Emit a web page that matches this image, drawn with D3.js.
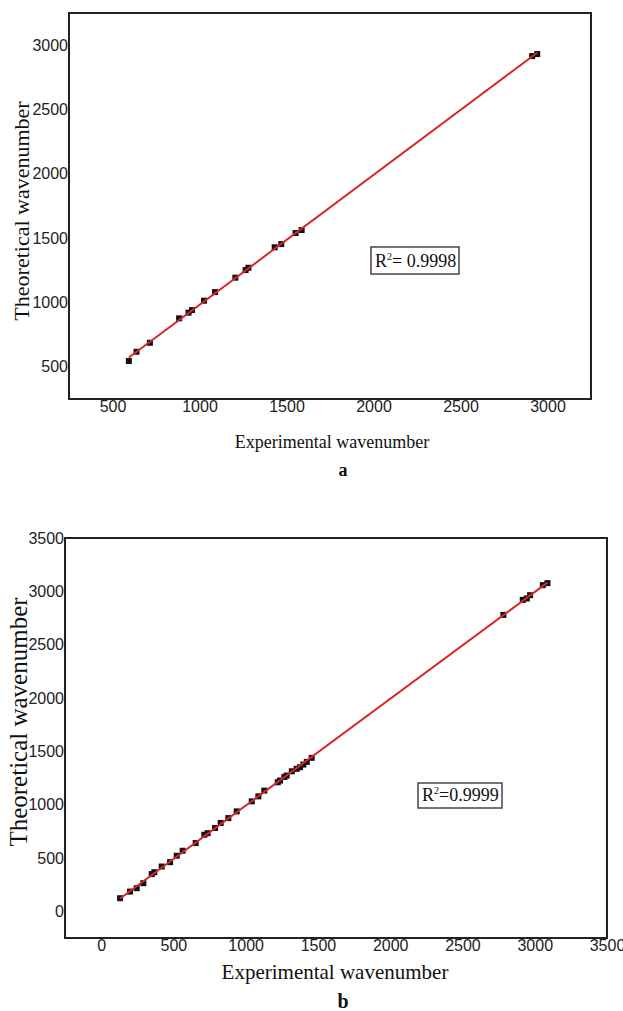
<!DOCTYPE html>
<html>
<head>
<meta charset="utf-8">
<script src="https://cdn.jsdelivr.net/npm/d3@7"></script>
<style>
  body { margin: 0; background: #fff; }
  .tick text { font-family: "Liberation Sans", Arial, sans-serif; font-size: 16px; fill: #222; }
  .serif { font-family: "Liberation Serif", "Times New Roman", serif; fill: #111; }
</style>
</head>
<body>
<div id="chart"></div>
<script>
// panel a values
var expA = [594, 638, 715, 883, 937, 957, 1026, 1089, 1206, 1265, 1281, 1432, 1470, 1552, 1587, 2912, 2941];
var theoA = [545, 617, 687, 877, 921, 941, 1014, 1081, 1193, 1252, 1270, 1429, 1454, 1540, 1563, 2915, 2931];
var ticksA = [500, 1000, 1500, 2000, 2500, 3000];

// panel b values
var expB = [131, 200, 246, 292, 350, 368, 419, 477, 523, 564, 654, 714, 737, 788, 827, 880, 938,
            1042, 1088, 1129, 1222, 1238, 1268, 1284, 1319, 1353, 1376, 1399, 1423, 1457,
            2783, 2917, 2945, 2968, 3056, 3088];
var theoB = [123, 185, 217, 264, 349, 367, 420, 461, 521, 568, 640, 718, 733, 781, 828, 874, 937,
             1031, 1078, 1132, 1210, 1226, 1260, 1273, 1313, 1336, 1351, 1376, 1401, 1439,
             2779, 2920, 2933, 2964, 3058, 3077];
var ticksB = [0, 500, 1000, 1500, 2000, 2500, 3000, 3500];

var svg = d3.select("#chart")
  .append("svg")
    .attr("width", 623)
    .attr("height", 1011);

// least squares fit for the red line
function fit(xs, ys) {
  var mx = d3.mean(xs), my = d3.mean(ys);
  var sxy = d3.sum(xs, function(x, i) { return (x - mx) * (ys[i] - my); });
  var sxx = d3.sum(xs, function(x) { return (x - mx) * (x - mx); });
  var b = sxy / sxx;
  return { b: b, a: my - b * mx };
}

function panel(opt) {
  var g = svg.append("g")
    .attr("transform", "translate(" + opt.left + "," + opt.top + ")");

  var x = d3.scaleLinear().domain(opt.domain).range([0, opt.w]);
  var y = d3.scaleLinear().domain(opt.domain).range([opt.h, 0]);

  g.append("g")
    .attr("transform", "translate(0," + opt.h + ")")
    .call(d3.axisBottom(x).tickValues(opt.ticks).tickFormat(d3.format("d")).tickSize(0).tickPadding(2))
    .call(function(a) { a.select(".domain").remove(); });

  g.append("g")
    .call(d3.axisLeft(y).tickValues(opt.ticks).tickFormat(d3.format("d")).tickSize(0).tickPadding(1))
    .call(function(a) { a.select(".domain").remove(); });

  // frame
  g.append("rect")
    .attr("width", opt.w)
    .attr("height", opt.h)
    .attr("fill", "none")
    .attr("stroke", "#222")
    .attr("stroke-width", 2);

  var data = opt.xs.map(function(d, i) { return { x: d, y: opt.ys[i] }; });

  g.selectAll(".pt")
    .data(data)
    .enter().append("rect")
      .attr("x", function(d) { return x(d.x) - 3; })
      .attr("y", function(d) { return y(d.y) - 3; })
      .attr("width", 6)
      .attr("height", 6)
      .attr("fill", "#111");

  var f = fit(opt.xs, opt.ys);
  var ends = d3.extent(opt.xs);
  g.append("path")
    .datum(ends)
    .attr("fill", "none")
    .attr("stroke", "#d8262a")
    .attr("stroke-width", 2)
    .attr("d", d3.line()
      .x(function(d) { return x(d); })
      .y(function(d) { return y(f.a + f.b * d); }));

  // R^2 box
  g.append("rect")
    .attr("x", opt.box[0])
    .attr("y", opt.box[1])
    .attr("width", opt.box[2])
    .attr("height", opt.box[3])
    .attr("fill", "#fff")
    .attr("stroke", "#444")
    .attr("stroke-width", 1.5);
  var t = g.append("text")
    .attr("class", "serif")
    .attr("x", opt.box[0] + 4)
    .attr("y", opt.box[1] + opt.box[3] - 7)
    .style("font-size", "18px");
  t.append("tspan").text("R");
  t.append("tspan").attr("dy", -7).style("font-size", "10px").text("2");
  t.append("tspan").attr("dy", 7).text(opt.r2);

  // axis titles
  g.append("text")
    .attr("class", "serif")
    .attr("text-anchor", "middle")
    .attr("x", opt.xTitle[0])
    .attr("y", opt.xTitle[1])
    .style("font-size", opt.xTitle[2] + "px")
    .text("Experimental wavenumber");

  g.append("text")
    .attr("class", "serif")
    .attr("text-anchor", "middle")
    .attr("transform", "translate(" + opt.yTitle[0] + "," + opt.yTitle[1] + ") rotate(-90)")
    .style("font-size", opt.yTitle[2] + "px")
    .text("Theoretical wavenumber");

  g.append("text")
    .attr("class", "serif")
    .attr("text-anchor", "middle")
    .attr("x", opt.tag[0])
    .attr("y", opt.tag[1])
    .style("font-size", opt.tag[2] + "px")
    .style("font-weight", "bold")
    .text(opt.label);
}

panel({
  left: 69, top: 13, w: 522, h: 386,
  domain: [250, 3250], ticks: ticksA,
  xs: expA, ys: theoA,
  box: [302, 234, 88, 27], r2: "= 0.9998",
  xTitle: [263, 435, 18], yTitle: [-40, 198, 22], tag: [274, 463, 18],
  label: "a"
});

panel({
  left: 65, top: 538, w: 542, h: 400,
  domain: [-250, 3500], ticks: ticksB,
  xs: expB, ys: theoB,
  box: [353, 245, 84, 25], r2: "=0.9999",
  xTitle: [270, 441, 21], yTitle: [-38, 184, 25], tag: [278, 470, 20],
  label: "b"
});
</script>
</body>
</html>
